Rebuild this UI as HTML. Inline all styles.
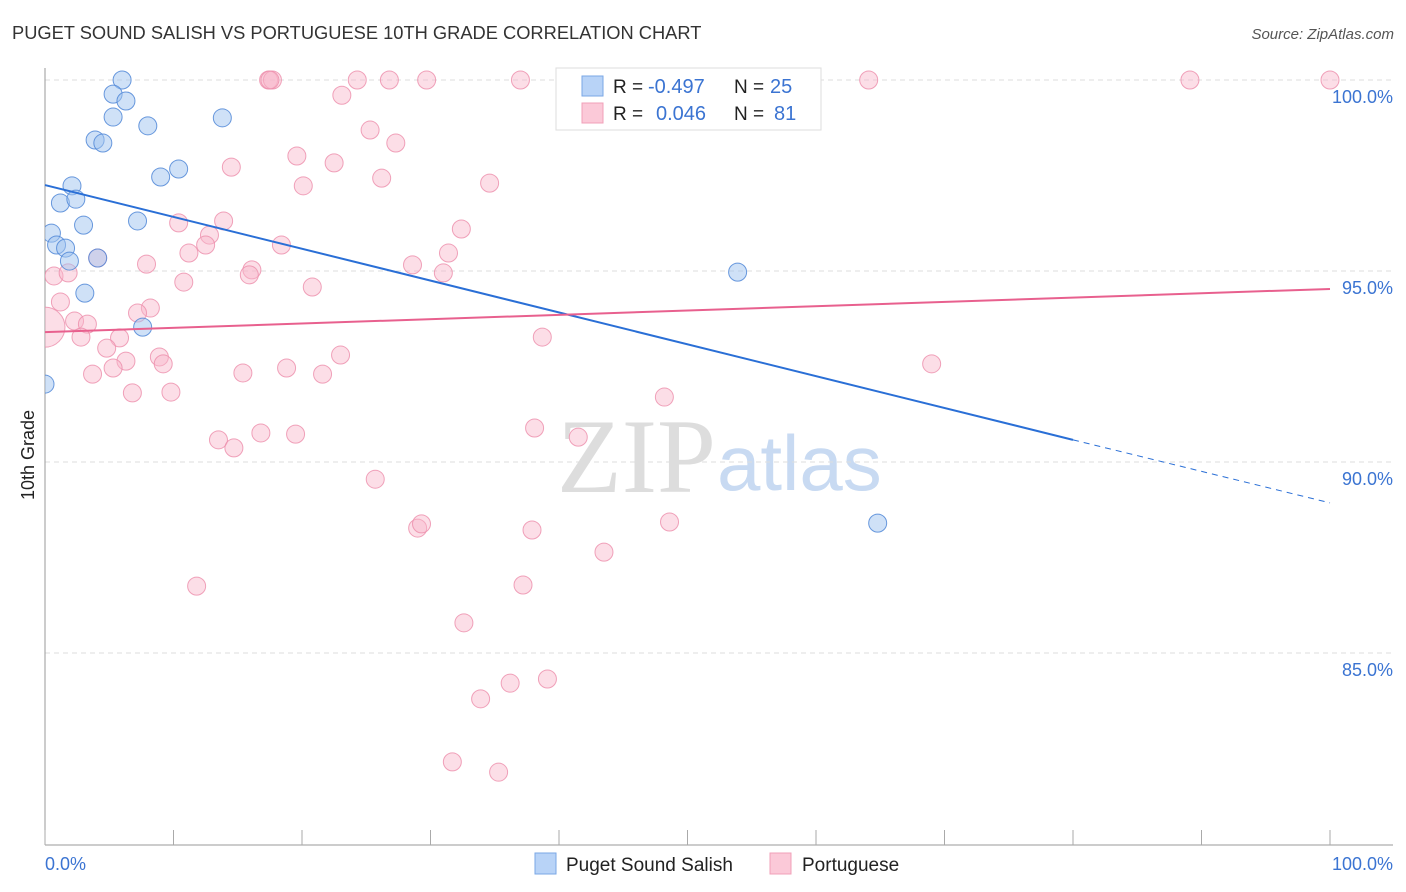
<!DOCTYPE html>
<html><head><meta charset="utf-8"><style>
body{margin:0;background:#fff;font-family:"Liberation Sans",sans-serif;}
#wrap{position:relative;width:1406px;height:892px;overflow:hidden;}
</style></head><body>
<div id="wrap">
<svg id="svg" width="1406" height="892" xmlns="http://www.w3.org/2000/svg">
<defs><clipPath id="plotclip"><rect x="45" y="60" width="1360" height="785"/></clipPath></defs>
<text x="12" y="39" font-size="18.3" fill="#333">PUGET SOUND SALISH VS PORTUGUESE 10TH GRADE CORRELATION CHART</text>
<text x="1394" y="39" font-size="15" fill="#555" font-style="italic" text-anchor="end">Source: ZipAtlas.com</text>
<text x="716" y="492" font-size="106" fill="#ddd" font-family="Liberation Serif, serif" text-anchor="end">ZIP</text>
<text x="717" y="490" font-size="78" fill="#c8daf2">atlas</text>
<text x="34" y="455" font-size="18" fill="#222" transform="rotate(-90 34 455)" text-anchor="middle">10th Grade</text>
<g id="grid"></g><g id="marks" clip-path="url(#plotclip)"></g><g id="lines"></g>
<g>
<rect x="556" y="68" width="265" height="62" fill="#fff" stroke="#ddd"/>
<rect x="582" y="76" width="21" height="20" fill="#b8d3f7" stroke="#7aa7e6"/>
<rect x="582" y="103" width="21" height="20" fill="#fbc9d8" stroke="#f0a0b8"/>
<text x="613" y="93" font-size="19" fill="#222">R = </text><text x="648" y="93" font-size="20" fill="#3b74d2">-0.497</text>
<text x="734" y="93" font-size="19" fill="#222">N = </text><text x="770" y="93" font-size="20" fill="#3b74d2">25</text>
<text x="613" y="120" font-size="19" fill="#222">R = </text><text x="656" y="120" font-size="20" fill="#3b74d2">0.046</text>
<text x="734" y="120" font-size="19" fill="#222">N = </text><text x="774" y="120" font-size="20" fill="#3b74d2">81</text>
</g>
<g>
<rect x="535" y="853" width="21" height="21" fill="#b8d3f7" stroke="#7aa7e6"/>
<text x="566" y="871" font-size="19" fill="#222">Puget Sound Salish</text>
<rect x="770" y="853" width="21" height="21" fill="#fbc9d8" stroke="#f0a0b8"/>
<text x="802" y="871" font-size="19" fill="#222">Portuguese</text>
</g>
</svg>
</div>
<script>
const yTicks=[100,95,90,85];
const xTickVals=[0,10,20,30,40,50,60,70,80,90,100];
const blueX=[6.0,5.3,6.3,5.3,8.0,3.9,4.5,13.8,10.4,9.0,2.1,1.2,2.4,3.0,7.2,0.5,0.9,1.6,1.9,4.1,3.1,7.6,0,53.9,64.8];
const blueY=[100,99.63,99.45,99.03,98.8,98.43,98.35,99.01,97.67,97.46,97.23,96.78,96.88,96.2,96.31,95.99,95.68,95.6,95.26,95.34,94.42,93.53,92.04,94.97,88.4];
const pinkX=[17.4,17.7,24.3,26.8,29.7,37.0,45.5,64.1,89.1,100,23.1,25.3,27.3,19.6,22.5,14.5,20.1,26.2,34.6,13.9,10.4,12.8,12.5,18.4,11.2,7.9,4.1,32.4,31.4,28.6,31.0,0.7,1.8,16.1,15.9,10.8,20.8,1.2,8.2,7.2,2.3,3.3,0,5.8,2.8,4.8,8.9,6.3,9.2,23.0,38.7,5.3,3.7,15.4,18.8,21.6,69.0,6.8,9.8,48.2,13.5,14.7,16.8,19.5,38.1,41.5,25.7,29.0,29.3,37.9,48.6,43.5,11.8,37.2,32.6,36.2,39.1,33.9,31.7,35.3,17.5];
const pinkY=[100,100,100,100,100,100,100,100,100,100,99.6,98.69,98.35,98.01,97.83,97.72,97.23,97.43,97.3,96.31,96.26,95.94,95.68,95.68,95.47,95.18,95.34,96.1,95.47,95.16,94.95,94.87,94.95,95.03,94.9,94.71,94.58,94.19,94.03,93.9,93.69,93.61,93.53,93.25,93.27,92.98,92.75,92.64,92.57,92.8,93.27,92.46,92.3,92.33,92.46,92.3,92.57,91.81,91.83,91.7,90.58,90.37,90.76,90.73,90.89,90.65,89.55,88.27,88.38,88.22,88.43,87.64,86.75,86.78,85.79,84.21,84.32,83.8,82.15,81.88,100];
const blueTrendX=[0,80,100], blueTrendY=[97.25,90.58,88.93];
const pinkTrendX=[0,100], pinkTrendY=[93.4,94.53];
const NS="http://www.w3.org/2000/svg";
const X=v=>45+v*12.85, Y=v=>80+(100-v)*38.2;
function mk(t,a,p){const e=document.createElementNS(NS,t);for(const k in a)e.setAttribute(k,a[k]);p.appendChild(e);return e;}
const grid=document.getElementById('grid'),marks=document.getElementById('marks'),lines=document.getElementById('lines');
yTicks.forEach(v=>{
 const l=mk('line',{x1:45,x2:1393,y1:Y(v),y2:Y(v),stroke:'#ddd','stroke-dasharray':'5,4'},grid);
 
 
 const t=mk('text',{x:1393,y:Y(v)+23,'font-size':18,fill:'#3b74d2','text-anchor':'end'},grid);
 t.textContent=v.toFixed(1)+'%';
 
 
});
mk('line',{x1:45,x2:45,y1:68,y2:845,stroke:'#999'},grid);
mk('line',{x1:45,x2:1393,y1:845,y2:845,stroke:'#999'},grid);
xTickVals.forEach(v=>{const l=mk('line',{x1:X(v),x2:X(v),y1:830,y2:845,stroke:'#aaa'},grid);
 
 });
let t=mk('text',{x:45,y:870,'font-size':18,fill:'#3b74d2'},grid);t.textContent='0.0%';


t=mk('text',{x:1393,y:870,'font-size':18,fill:'#3b74d2','text-anchor':'end'},grid);t.textContent='100.0%';


pinkX.forEach((x,i)=>{const c=mk('circle',{cx:X(x),cy:Y(pinkY[i]),r:(x===0&&Math.abs(pinkY[i]-93.53)<0.01)?20:9,fill:'rgba(248,182,202,0.45)',stroke:'rgba(236,140,170,0.8)','stroke-width':1},marks);
 
 });
blueX.forEach((x,i)=>{const c=mk('circle',{cx:X(x),cy:Y(blueY[i]),r:9,fill:'rgba(160,196,240,0.5)',stroke:'rgba(80,135,215,0.85)','stroke-width':1},marks);
 
 });
let l=mk('line',{x1:X(blueTrendX[0]),y1:Y(blueTrendY[0]),x2:X(blueTrendX[1]),y2:Y(blueTrendY[1]),stroke:'#2a6fd6','stroke-width':2},lines);


l=mk('line',{x1:X(blueTrendX[1]),y1:Y(blueTrendY[1]),x2:X(blueTrendX[2]),y2:Y(blueTrendY[2]),stroke:'#2a6fd6','stroke-width':1,'stroke-dasharray':'6,5'},lines);


l=mk('line',{x1:X(pinkTrendX[0]),y1:Y(pinkTrendY[0]),x2:X(pinkTrendX[1]),y2:Y(pinkTrendY[1]),stroke:'#e8608e','stroke-width':2},lines);


</script>
</body></html>
